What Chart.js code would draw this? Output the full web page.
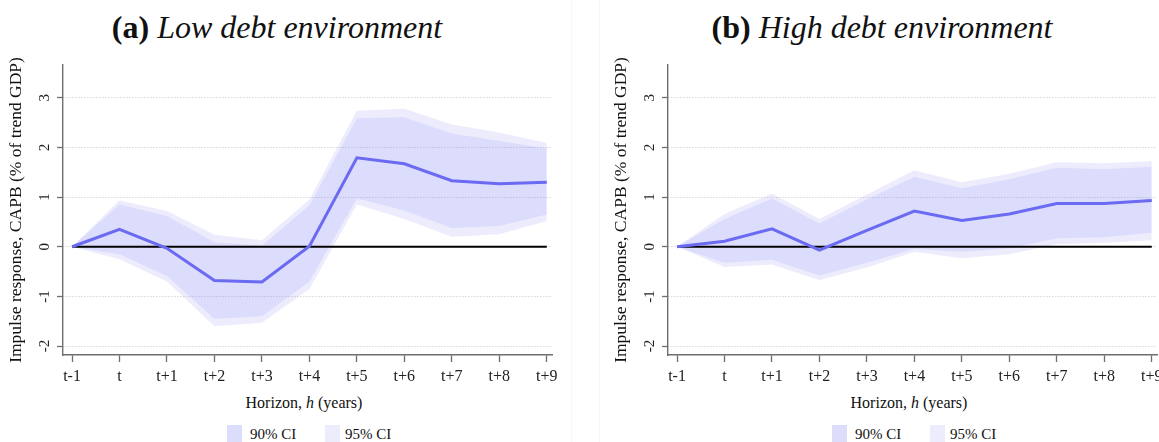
<!DOCTYPE html>
<html>
<head>
<meta charset="utf-8">
<script src="https://cdn.jsdelivr.net/npm/chart.js@4.4.1/dist/chart.umd.min.js"></script>
<style>
  html, body { margin: 0; padding: 0; background: #fff; }
  body { width: 1159px; height: 442px; overflow: hidden; position: relative;
         font-family: "Liberation Serif", "Times New Roman", serif; color: #111; }
  .panel { position: absolute; top: 0; width: 580px; height: 442px; }
  .panel canvas { position: absolute; left: 0; top: 0; }
  .title { position: absolute; left: 0; width: 554px; top: 9px; text-align: center;
           font-size: 32px; line-height: 36px; white-space: nowrap; }
  .title b { font-weight: bold; }
  .title i { font-style: italic; }
  .xtitle { position: absolute; left: 0; width: 608px; top: 393px; text-align: center;
            font-size: 16px; line-height: 20px; white-space: nowrap; }
  .leg { position: absolute; top: 425px; height: 17px; }
  .legtxt { position: absolute; top: 425px; font-size: 15px; line-height: 18px; white-space: nowrap; }
  .sep { position: absolute; top: 0; width: 1px; height: 442px; background: #f8f8f8; }
</style>
</head>
<body>
<div class="sep" style="left:571px"></div>
<div class="sep" style="left:599px"></div>
<div class="panel" id="panelA" style="left:0px">
  <div class="title"><b>(a)</b> <i>Low debt environment</i></div>
  <canvas id="chartA" width="580" height="392"></canvas>
  <div class="xtitle">Horizon, <i>h</i> (years)</div>
  <div class="leg" style="left:227px;width:15px;background:#dcdcfb"></div>
  <div class="legtxt" style="left:250px">90% CI</div>
  <div class="leg" style="left:325px;width:15px;background:#ececfd"></div>
  <div class="legtxt" style="left:345px">95% CI</div>
</div>
<div class="panel" id="panelB" style="left:605px">
  <div class="title"><b>(b)</b> <i>High debt environment</i></div>
  <canvas id="chartB" width="580" height="392"></canvas>
  <div class="xtitle">Horizon, <i>h</i> (years)</div>
  <div class="leg" style="left:227px;width:15px;background:#dcdcfb"></div>
  <div class="legtxt" style="left:250px">90% CI</div>
  <div class="leg" style="left:325px;width:15px;background:#ececfd"></div>
  <div class="legtxt" style="left:345px">95% CI</div>
</div>
<script>
// Horizons and their labels
const horizons = [-1, 0, 1, 2, 3, 4, 5, 6, 7, 8, 9];
const horizonLabels = ['t-1', 't', 't+1', 't+2', 't+3', 't+4', 't+5', 't+6', 't+7', 't+8', 't+9'];
const yTickValues = [-2, -1, 0, 1, 2, 3];

// Low debt environment: impulse response and confidence bands
const lowIrf     = [0, 0.35, -0.03, -0.68, -0.71, 0.01, 1.79, 1.67, 1.33, 1.27, 1.30];
const lowUpper90 = [0, 0.85,  0.62,  0.09,  0.02, 0.83, 2.59, 2.61, 2.28, 2.13, 1.98];
const lowLower90 = [0, -0.15, -0.59, -1.45, -1.40, -0.70, 0.97, 0.73, 0.38, 0.42, 0.65];
const lowUpper95 = [0, 0.93,  0.72,  0.24,  0.13, 0.95, 2.74, 2.78, 2.46, 2.30, 2.09];
const lowLower95 = [0, -0.25, -0.70, -1.60, -1.53, -0.85, 0.85, 0.56, 0.20, 0.25, 0.52];

// High debt environment: impulse response and confidence bands
const highIrf     = [0, 0.11, 0.36, -0.07, 0.33, 0.72, 0.53, 0.66, 0.87, 0.87, 0.93];
const highUpper90 = [0, 0.56, 0.97, 0.47, 0.95, 1.41, 1.18, 1.36, 1.59, 1.56, 1.61];
const highLower90 = [0, -0.32, -0.26, -0.58, -0.32, -0.04, -0.10, -0.03, 0.17, 0.19, 0.28];
const highUpper95 = [0, 0.66, 1.07, 0.56, 1.05, 1.54, 1.30, 1.47, 1.70, 1.68, 1.72];
const highLower95 = [0, -0.41, -0.36, -0.67, -0.42, -0.10, -0.23, -0.15, 0.05, 0.08, 0.13];

const FONT = '"Liberation Serif", "Times New Roman", serif';
const AXIS = '#6e6e6e';
const LINE = '#6a6af2';
const BAND = 'rgba(120,120,240,0.14)';

const pts = arr => arr.map((v, i) => ({ x: horizons[i], y: v }));

function makeChart(id, irf, up90, lo90, up95, lo95) {
  const band = (data, fill) => ({
    data: pts(data), borderWidth: 0, pointRadius: 0, fill: fill,
    backgroundColor: BAND, borderColor: 'transparent', tension: 0
  });
  return new Chart(document.getElementById(id), {
    type: 'line',
    data: {
      datasets: [
        { data: pts(irf), borderColor: LINE, borderWidth: 3, pointRadius: 0, fill: false, tension: 0 },
        { data: pts(horizons.map(() => 0)), borderColor: '#000', borderWidth: 2, pointRadius: 0, fill: false },
        band(up90, '+1'),
        band(lo90, false),
        band(up95, '+1'),
        band(lo95, false)
      ]
    },
    options: {
      responsive: false,
      animation: false,
      events: [],
      layout: { padding: { top: 65, right: 28, left: 0, bottom: 0 } },
      plugins: { legend: { display: false }, tooltip: { enabled: false }, title: { display: false } },
      scales: {
        x: {
          type: 'linear', min: -1.19, max: 9.11,
          afterBuildTicks: s => { s.ticks = horizons.map(v => ({ value: v })); },
          afterFit: s => { s.height = 37; s.paddingLeft = 0; s.paddingRight = 0; },
          grid: { drawOnChartArea: false, drawTicks: true, tickLength: 7, tickColor: AXIS, tickWidth: 1.3 },
          border: { display: true, color: AXIS, width: 1.4 },
          ticks: {
            autoSkip: false, minRotation: 0, maxRotation: 0, padding: 5,
            font: { family: FONT, size: 16 }, color: '#222',
            callback: (v, i) => horizonLabels[i]
          }
        },
        y: {
          type: 'linear', min: -2.18, max: 3.66,
          afterBuildTicks: s => { s.ticks = yTickValues.map(v => ({ value: v })); },
          afterFit: s => { s.width = 63; s.paddingTop = 0; s.paddingBottom = 0; },
          grid: { drawTicks: true, tickLength: 6, color: '#c4c4c4', lineWidth: 1,
                  tickColor: AXIS, tickWidth: 1.3 },
          border: { display: true, color: AXIS, width: 1.4, dash: [1, 2] },
          ticks: {
            minRotation: 90, maxRotation: 90, crossAlign: 'center', padding: 6,
            font: { family: FONT, size: 15 }, color: '#222',
            callback: v => String(v)
          },
          title: {
            display: true, text: 'Impulse response, CAPB (% of trend GDP)',
            font: { family: FONT, size: 17.5 }, color: '#111', padding: { top: 6, bottom: 0 }
          }
        }
      }
    }
  });
}

makeChart('chartA', lowIrf, lowUpper90, lowLower90, lowUpper95, lowLower95);
makeChart('chartB', highIrf, highUpper90, highLower90, highUpper95, highLower95);
</script>
</body>
</html>
